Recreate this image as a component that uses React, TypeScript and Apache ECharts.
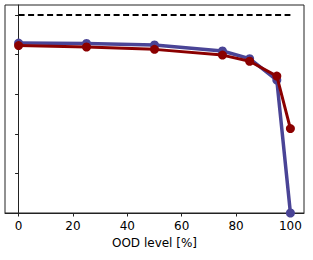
import React, { useEffect, useRef } from "react";
import * as echarts from "echarts";

const oodLevels = [0, 25, 50, 75, 85, 95, 100];
const blueValues = [0.858, 0.856, 0.848, 0.818, 0.779, 0.671, 0.0];
const redValues = [0.845, 0.838, 0.826, 0.797, 0.766, 0.691, 0.426];
const referenceLine = [1.0, 1.0];
const referenceX = [0, 100];
const xTicks = [0, 20, 40, 60, 80, 100];
const yTicks = [0, 0.2, 0.4, 0.6, 0.8, 1.0];

export default function App() {
  const ref = useRef<HTMLDivElement>(null);
  useEffect(() => {
    if (!ref.current) return;
    const chart = echarts.init(ref.current, null, { renderer: "svg" });
    const font = "DejaVu Sans";
    chart.setOption({
      animation: false,
      grid: {
        left: 5,
        top: 5,
        width: 299,
        height: 208,
        show: true,
        borderColor: "#222",
        borderWidth: 1,
        backgroundColor: "#fff",
      },
      xAxis: {
        type: "value",
        min: -5,
        max: 105,
        name: "OOD level [%]",
        nameLocation: "middle",
        nameGap: 24,
        nameTextStyle: { fontFamily: font, fontSize: 12, color: "#000" },
        axisLine: { show: true, lineStyle: { color: "#222", width: 1 } },
        axisTick: { show: true, inside: false, length: 3.5, lineStyle: { color: "#222" }, customValues: xTicks },
        axisLabel: { show: true, margin: 7, fontFamily: font, fontSize: 12, color: "#000", customValues: xTicks },
        splitLine: { show: false },
      },
      yAxis: {
        type: "value",
        min: 0,
        max: 1.05,
        axisLine: { show: true, lineStyle: { color: "#222", width: 1 } },
        axisTick: { show: true, inside: false, length: 3.5, lineStyle: { color: "#222" }, customValues: yTicks },
        axisLabel: { show: false },
        splitLine: { show: false },
      },
      series: [
        {
          type: "line",
          data: referenceX.map((x, i) => [x, referenceLine[i]]),
          showSymbol: false,
          symbol: "none",
          lineStyle: { color: "#000", width: 2, type: [6, 3.5] },
          z: 1,
        },
        {
          type: "line",
          data: oodLevels.map((x, i) => [x, blueValues[i]]),
          symbol: "circle",
          symbolSize: 9,
          itemStyle: { color: "#4a4496" },
          lineStyle: { color: "#4a4496", width: 3.5 },
          z: 2,
        },
        {
          type: "line",
          data: oodLevels.map((x, i) => [x, redValues[i]]),
          symbol: "circle",
          symbolSize: 9,
          itemStyle: { color: "#8b0000" },
          lineStyle: { color: "#8b0000", width: 3 },
          z: 3,
        },
      ],
    });
    return () => chart.dispose();
  }, []);
  return (
    <div
      ref={ref}
      style={{ position: "fixed", left: 0, top: 0, width: 313, height: 260, background: "#fff" }}
    />
  );
}
